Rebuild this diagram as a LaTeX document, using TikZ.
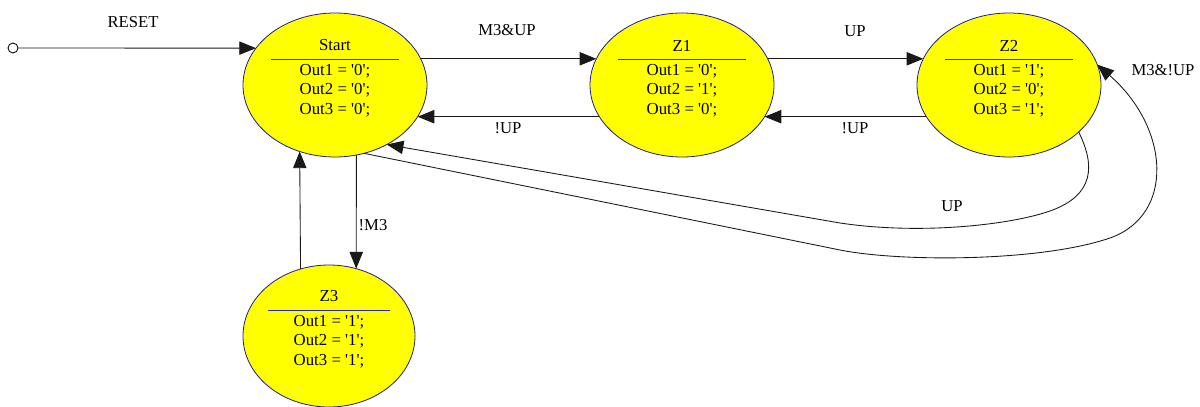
\documentclass[tikz,border=0pt]{standalone}
\usepackage{fontspec}
\setmainfont{Liberation Serif}
\usetikzlibrary{shapes.geometric,arrows.meta,calc}
\definecolor{stfill}{RGB}{255,255,0}
\definecolor{stline}{RGB}{30,30,150}
\definecolor{sepblue}{RGB}{40,40,210}
\newcommand{\q}{\textquotesingle}
\newcommand{\statetext}[6]{%
  \node[txt] (#1t) at ($(#1)+(0,-39.5)$) {#2};
  \draw[sep] ($(#1)+(-#6,-26)$) -- ($(#1)+(#6,-26)$);
  \node[txt] (#1a) at ($(#1)+(0,-14)$) {#3};
  \node[txt] (#1b) at ($(#1)+(0,5)$) {#4};
  \node[txt] (#1c) at ($(#1)+(0,25)$) {#5};
}
\begin{document}
\begin{tikzpicture}[x=0.75pt,y=-0.75pt,
  state/.style={ellipse,draw=stline,fill=stfill,line width=0.6pt,minimum width=138pt,minimum height=108pt,inner sep=0pt,outer sep=0pt},
  smallstate/.style={state,minimum width=129pt,minimum height=106.5pt},
  txt/.style={font=\fontsize{12.6}{14}\selectfont,inner sep=0pt,text=black},
  lbl/.style={font=\fontsize{12.5}{14}\selectfont,inner sep=0pt,text=black},
  sep/.style={draw=sepblue,line width=0.6pt},
  conn/.style={draw=black!90,line width=0.65pt,-{Triangle[length=12.5pt,width=10pt]}},
  initdot/.style={circle,draw=black,line width=0.65pt,fill=white,minimum size=7.5pt,inner sep=0pt}]
\useasboundingbox (0,0) rectangle (1200,407);

% states
\node[state] (S) at (335,85) {};
\node[state] (Z1) at (682,85) {};
\node[state] (Z2) at (1009,85) {};
\node[smallstate] (Z3) at (329,336) {};

\statetext{S}{Start}{Out1 = \q0\q;}{Out2 = \q0\q;}{Out3 = \q0\q;}{64}
\statetext{Z1}{Z1}{Out1 = \q0\q;}{Out2 = \q1\q;}{Out3 = \q0\q;}{64}
\statetext{Z2}{Z2}{Out1 = \q1\q;}{Out2 = \q0\q;}{Out3 = \q1\q;}{64}
\statetext{Z3}{Z3}{Out1 = \q1\q;}{Out2 = \q1\q;}{Out3 = \q1\q;}{61}

% reset
\node[initdot] (R) at (13,48) {};
\draw[conn] (R) -- (S.155);
\node[lbl] (lR) at (133,22) {RESET};

% horizontal transitions
\draw[conn] (S.17) -- (Z1.163);
\node[lbl] (l1) at (507,30) {M3\&UP};
\draw[conn] (Z1.201.2) -- (S.-21.2);
\node[lbl] (l2) at (508,128) {!UP};
\draw[conn] (Z1.17) -- (Z2.163);
\node[lbl] (l3) at (855,31) {UP};
\draw[conn] (Z2.201.2) -- (Z1.-21.2);
\node[lbl] (l4) at (855,128) {!UP};

% vertical transitions
\draw[conn] (S.-73.3) -- (Z3.68.2);
\node[lbl] (l5) at (373,225) {!M3};
\draw[conn] (Z3.113.4) -- (S.242.3);

% long curves
\draw[conn] (Z2.-34) .. controls (1095,165) and (1095,195) .. (1050,211)
   .. controls (1010,225) and (920,235) .. (840,223) -- (S.-49.5);
\node[lbl] (l6) at (952,206) {UP};
\draw[conn] (S.-67) -- (840,250) .. controls (900,262) and (1040,262) .. (1110,238)
   .. controls (1175,215) and (1170,128) .. (Z2.13);
\node[lbl] (l7) at (1163,70) {M3\&!UP};
\end{tikzpicture}
\end{document}
